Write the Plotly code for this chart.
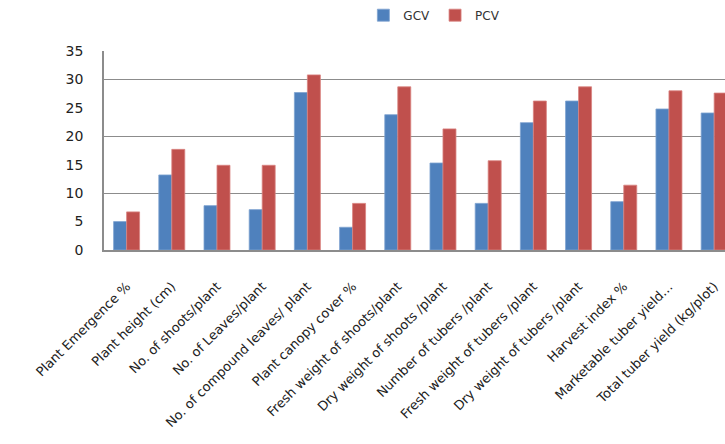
import plotly.graph_objects as go

categories = [
    "Plant Emergence %",
    "Plant height (cm)",
    "No. of shoots/plant",
    "No. of Leaves/plant",
    "No. of compound leaves/ plant",
    "Plant canopy cover %",
    "Fresh weight of shoots/plant",
    "Dry weight of shoots /plant",
    "Number of tubers /plant",
    "Fresh weight of tubers /plant",
    "Dry weight of tubers /plant",
    "Harvest index %",
    "Marketable tuber yield…",
    "Total tuber yield (kg/plot)",
]
gcv = [5.0, 13.2, 7.8, 7.1, 27.7, 4.0, 23.8, 15.3, 8.2, 22.4, 26.2, 8.5, 24.8, 24.1]
pcv = [6.7, 17.7, 14.9, 14.9, 30.8, 8.2, 28.7, 21.3, 15.7, 26.2, 28.7, 11.4, 28.0, 27.6]
y_ticks = [0, 5, 10, 15, 20, 25, 30, 35]

font_family = "DejaVu Sans, Liberation Sans, Arial, sans-serif"
axis_grey = "#8c8c8c"

fig = go.Figure()
fig.add_trace(go.Bar(
    name="GCV", x=categories, y=gcv,
    marker=dict(color="#4F81BD", line=dict(color="#7fa3d1", width=0.8)),
))
fig.add_trace(go.Bar(
    name="PCV", x=categories, y=pcv,
    marker=dict(color="#C0504D", line=dict(color="#d98482", width=0.8)),
))
# invisible trace that carries the secondary y axis used for the 10-step grid
fig.add_trace(go.Scatter(x=[categories[0]], y=[0], yaxis="y2", mode="markers",
                         marker=dict(opacity=0), showlegend=False, hoverinfo="skip"))

fig.update_layout(
    width=725, height=444,
    margin=dict(l=104, r=0, t=51, b=194, autoexpand=False),
    paper_bgcolor="white", plot_bgcolor="white",
    barmode="group", bargap=0.425, bargroupgap=0,
    font=dict(family=font_family, size=13, color="#222222"),
    legend=dict(orientation="h", x=0.532, xanchor="center", y=1.18, yanchor="middle",
                font=dict(size=12, color="#333333"), itemwidth=30, traceorder="normal"),
    xaxis=dict(
        range=[-0.5, 13.24], tickangle=-45, showgrid=False,
        showline=True, linecolor=axis_grey, linewidth=1.5,
        ticks="", ticklabelstandoff=22, tickfont=dict(size=13),
    ),
    yaxis=dict(
        range=[0, 35], tickvals=y_ticks, showgrid=False,
        showline=True, linecolor=axis_grey, linewidth=1.5,
        ticks="", ticklabelstandoff=16, tickfont=dict(size=14),
        zeroline=False,
    ),
    yaxis2=dict(
        range=[0, 35], dtick=10, overlaying="y", side="left",
        showgrid=True, gridcolor=axis_grey, gridwidth=1.2,
        showticklabels=False, showline=False, zeroline=False,
    ),
)

fig.write_html("out.html")
